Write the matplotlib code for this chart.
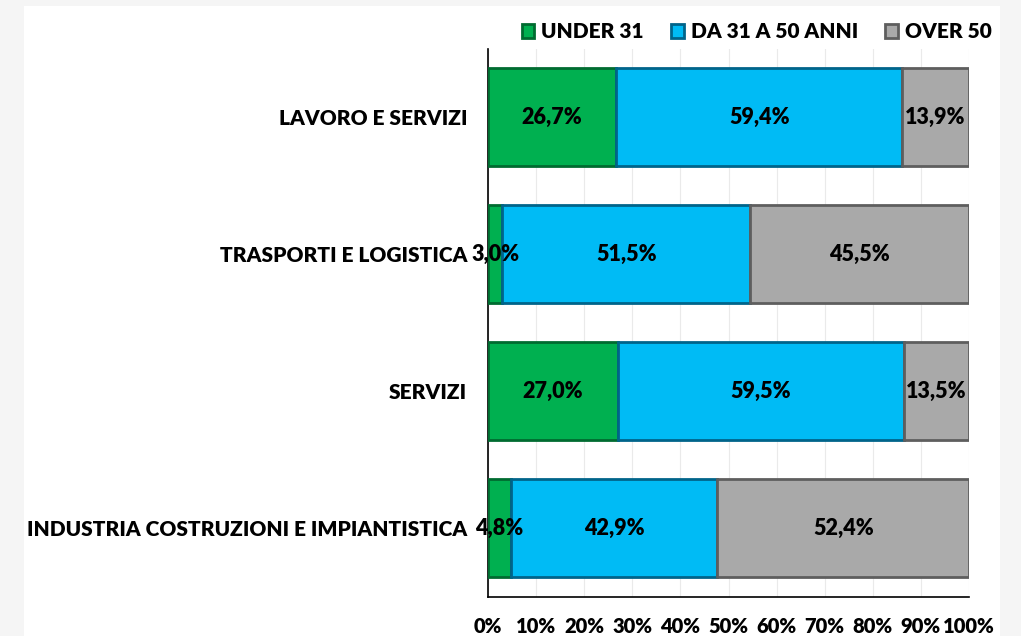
import matplotlib
matplotlib.use("Agg")
import matplotlib.pyplot as plt
from matplotlib.patches import Rectangle
import numpy as np

categories = ["LAVORO E SERVIZI", "TRASPORTI E LOGISTICA", "SERVIZI",
              "INDUSTRIA COSTRUZIONI E IMPIANTISTICA"]
series_names = ["UNDER 31", "DA 31 A 50 ANNI", "OVER 50"]
under_31 = [26.7, 3.0, 27.0, 4.8]
da_31_a_50 = [59.4, 51.5, 59.5, 42.9]
over_50 = [13.9, 45.5, 13.5, 52.4]
x_ticks = list(range(0, 101, 10))

face_colors = ["#00B050", "#00BBF5", "#A9A9A9"]
edge_colors = ["#006B30", "#00648A", "#5E5E5E"]

plt.rcParams["font.family"] = ["Lato", "DejaVu Sans"]
plt.rcParams["font.weight"] = "heavy"
W = "heavy"

fig = plt.figure(figsize=(10.21, 6.36), dpi=100, facecolor="#F5F5F5")
# white chart area on the light grey page
fig.patches.append(Rectangle((24 / 1021, 0), (1000 - 24) / 1021, 1 - 6 / 636,
                             transform=fig.transFigure, facecolor="white",
                             edgecolor="none", zorder=-10))
ax = fig.add_axes([488 / 1021, 1 - 596.5 / 636, (969 - 488) / 1021,
                   (596.5 - 48.5) / 636])
ax.set_facecolor("none")

# first category drawn at the top
y = np.arange(len(categories))[::-1]
values = [under_31, da_31_a_50, over_50]
left = np.zeros(len(categories))
for name, vals, fc, ec in zip(series_names, values, face_colors, edge_colors):
    ax.barh(y, vals, left=left, height=0.71, color=fc, edgecolor=ec,
            linewidth=2.0, label=name, zorder=3)
    for yi, l, v in zip(y, left, vals):
        ax.text(l + v / 2, yi, f"{v:.1f}%".replace(".", ","), ha="center",
                va="center", fontsize=15.5, fontweight=W, color="black",
                zorder=5)
    left = left + np.array(vals)

ax.set_xlim(0, 100)
ax.set_ylim(-0.5, len(categories) - 0.5)
ax.set_yticks(y)
ax.set_yticklabels(categories, fontsize=15, fontweight=W)
ax.set_xticks(x_ticks)
ax.set_xticklabels([f"{t}%" for t in x_ticks], fontsize=14.5, fontweight=W)
ax.tick_params(axis="y", length=0, pad=15)
ax.tick_params(axis="x", length=0, pad=15)
ax.grid(axis="x", color="#EAEAEA", linewidth=0.8, zorder=0)
for s in ["top", "right"]:
    ax.spines[s].set_visible(False)
ax.spines["left"].set_linewidth(1.2)
ax.spines["bottom"].set_linewidth(1.2)

leg = fig.legend(loc="upper right", bbox_to_anchor=(1000 / 1021, 1 - 14 / 636),
                 ncol=3, frameon=False, fontsize=15, handlelength=0.6,
                 handleheight=0.6, handletextpad=0.35, columnspacing=1.3,
                 borderaxespad=0)
for t in leg.get_texts():
    t.set_fontweight(W)

fig.savefig("out.png", dpi=100, facecolor=fig.get_facecolor())
